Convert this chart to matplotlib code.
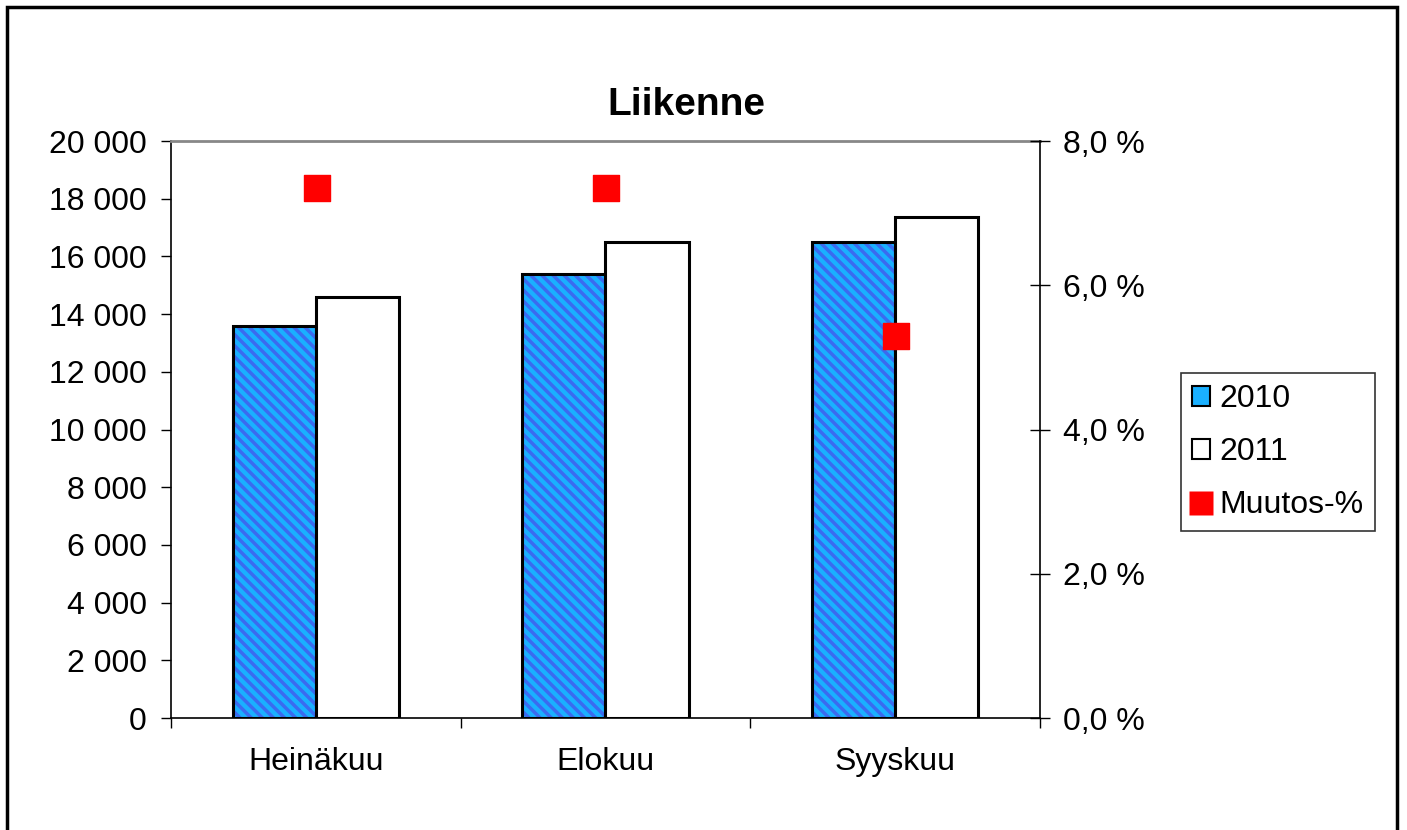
import matplotlib.pyplot as plt
import numpy as np
from matplotlib.patches import Patch, Rectangle
from matplotlib.lines import Line2D
from matplotlib.ticker import FuncFormatter, MultipleLocator

plt.rcParams['font.family'] = ['Liberation Sans', 'DejaVu Sans']
plt.rcParams['hatch.linewidth'] = 2.5

months = ['Heinäkuu', 'Elokuu', 'Syyskuu']
traffic_2010 = [13600, 15400, 16500]
traffic_2011 = [14600, 16500, 17350]
change_pct = [7.35, 7.35, 5.3]

fig = plt.figure(figsize=(14.07, 8.3), dpi=100)
ax = fig.add_axes([171 / 1407, 0.1349, 869 / 1407, 0.6952])

x = np.arange(len(months))
w = 0.287

# 2010 bars: striped blue fill, then black outline on top
ax.bar(x - w / 2, traffic_2010, w, color='#1AB0FF', edgecolor='#3A6BF0',
       hatch='\\\\\\', linewidth=0, zorder=2)
ax.bar(x - w / 2, traffic_2010, w, fill=False, edgecolor='black', linewidth=2.2, zorder=3)
ax.bar(x + w / 2, traffic_2011, w, color='white', edgecolor='black', linewidth=2.2, zorder=3)

ax.set_xlim(-0.5, 2.5)
ax.set_ylim(0, 20000)
ax.yaxis.set_major_locator(MultipleLocator(2000))
ax.yaxis.set_major_formatter(FuncFormatter(lambda v, p: f'{int(v):,}'.replace(',', ' ')))
ax.set_xticks(x)
ax.set_xticklabels(months)
ax.set_xticks([-0.5, 0.5, 1.5, 2.5], minor=True)
ax.tick_params(axis='x', which='major', length=0, pad=21, labelsize=23)
ax.tick_params(axis='x', which='minor', length=7.5, width=1, direction='out')
ax.tick_params(axis='y', length=7.5, width=1, labelsize=23, pad=10)

ax.spines['top'].set_color('#888888')
ax.spines['top'].set_linewidth(2)
for s in ['left', 'bottom']:
    ax.spines[s].set_linewidth(1.2)
ax.spines['right'].set_visible(False)

ax2 = ax.twinx()
ax2.scatter(x + 0.003, change_pct, marker='s', s=330, color='#FF0000', zorder=4)
ax2.set_ylim(0, 8)
ax2.yaxis.set_major_locator(MultipleLocator(2))
ax2.yaxis.set_major_formatter(FuncFormatter(lambda v, p: f'{v:.1f} %'.replace('.', ',')))
ax2.tick_params(axis='y', length=14.5, width=1, direction='inout', labelsize=23, pad=9)
ax2.spines['right'].set_linewidth(1.2)
for s in ['top', 'left', 'bottom']:
    ax2.spines[s].set_visible(False)

fig.text(0.4875, 0.873, 'Liikenne', ha='center', va='center', fontsize=28, fontweight='bold')

handles = [
    Patch(facecolor='#1AB0FF', edgecolor='black', linewidth=1.5),
    Patch(facecolor='white', edgecolor='black', linewidth=1.5),
    Line2D([], [], marker='s', color='none', markerfacecolor='#FF0000',
           markeredgecolor='none', markersize=17),
]
leg = fig.legend(handles, ['2010', '2011', 'Muutos-%'], loc='upper left',
                 bbox_to_anchor=(1181 / 1407, 1 - 373 / 830), fontsize=23,
                 frameon=True, fancybox=False, edgecolor='black',
                 handlelength=0.55, handleheight=0.55, handletextpad=0.3,
                 labelspacing=0.72, borderpad=0.35, borderaxespad=0)
leg.get_frame().set_linewidth(1.2)

fig.patches.append(Rectangle((7 / 1407, -0.05), 1390 / 1407, 1.05 - 7 / 830,
                             transform=fig.transFigure, fill=False,
                             edgecolor='black', linewidth=2.5))

fig.savefig('out.png', dpi=100)
